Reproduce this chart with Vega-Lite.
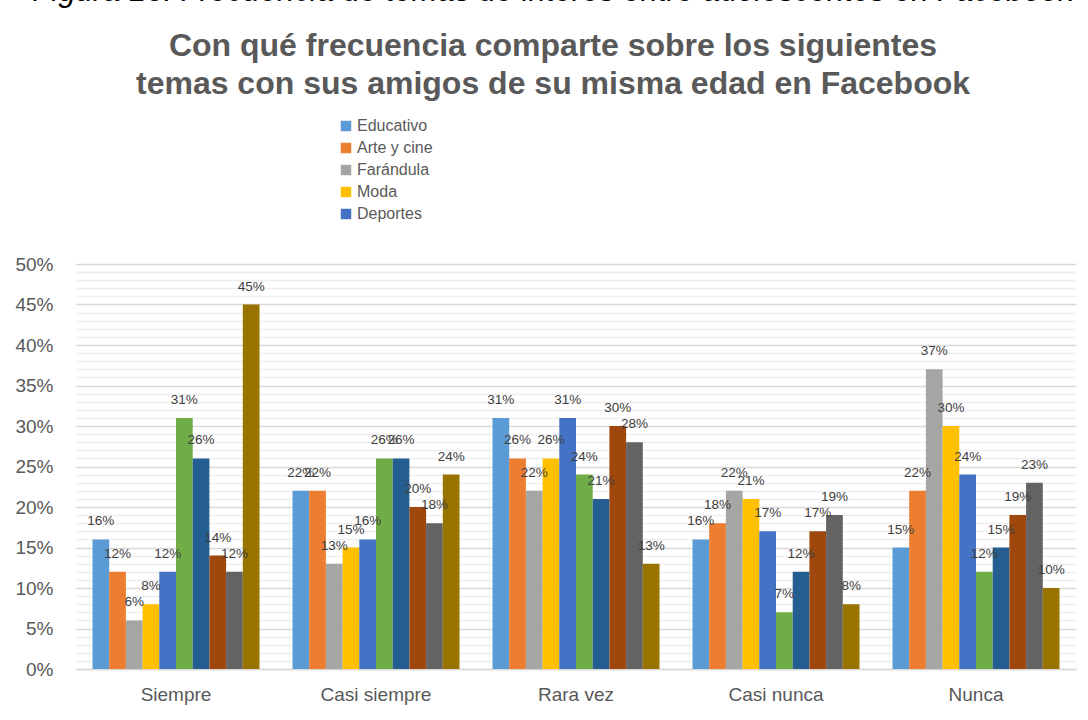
{
  "$schema": "https://vega.github.io/schema/vega-lite/v6.json",
  "width": 1000,
  "height": 405,
  "autosize": {"type": "none"},
  "padding": {"left": 76, "top": 264, "right": 12, "bottom": 51},
  "background": "white",
  "config": {"view": {"stroke": null}, "font": "Liberation Sans"},
  "title": {
    "text": "Figura 13: Frecuencia de temas de interés entre adolescentes en Facebook",
    "subtitle": ["Con qué frecuencia comparte sobre los siguientes", "temas con sus amigos de su misma edad en Facebook"],
    "anchor": "middle",
    "frame": "group",
    "dx": -23,
    "offset": 17,
    "font": "Liberation Sans",
    "fontSize": 31,
    "fontStyle": "italic",
    "fontWeight": "normal",
    "color": "#000000",
    "subtitleFont": "Liberation Sans",
    "subtitleFontSize": 32,
    "subtitleFontWeight": "bold",
    "subtitleColor": "#595959",
    "subtitleLineHeight": 38,
    "subtitlePadding": 23
  },
  "data": {
    "values": [
      {"cat": "Siempre", "serie": "Educativo", "v": 0.16},
      {"cat": "Siempre", "serie": "Arte y cine", "v": 0.12},
      {"cat": "Siempre", "serie": "Farándula", "v": 0.06},
      {"cat": "Siempre", "serie": "Moda", "v": 0.08},
      {"cat": "Siempre", "serie": "Deportes", "v": 0.12},
      {"cat": "Siempre", "serie": "Serie 6", "v": 0.31},
      {"cat": "Siempre", "serie": "Serie 7", "v": 0.26},
      {"cat": "Siempre", "serie": "Serie 8", "v": 0.14},
      {"cat": "Siempre", "serie": "Serie 9", "v": 0.12},
      {"cat": "Siempre", "serie": "Serie 10", "v": 0.45},
      {"cat": "Casi siempre", "serie": "Educativo", "v": 0.22},
      {"cat": "Casi siempre", "serie": "Arte y cine", "v": 0.22},
      {"cat": "Casi siempre", "serie": "Farándula", "v": 0.13},
      {"cat": "Casi siempre", "serie": "Moda", "v": 0.15},
      {"cat": "Casi siempre", "serie": "Deportes", "v": 0.16},
      {"cat": "Casi siempre", "serie": "Serie 6", "v": 0.26},
      {"cat": "Casi siempre", "serie": "Serie 7", "v": 0.26},
      {"cat": "Casi siempre", "serie": "Serie 8", "v": 0.20},
      {"cat": "Casi siempre", "serie": "Serie 9", "v": 0.18},
      {"cat": "Casi siempre", "serie": "Serie 10", "v": 0.24},
      {"cat": "Rara vez", "serie": "Educativo", "v": 0.31},
      {"cat": "Rara vez", "serie": "Arte y cine", "v": 0.26},
      {"cat": "Rara vez", "serie": "Farándula", "v": 0.22},
      {"cat": "Rara vez", "serie": "Moda", "v": 0.26},
      {"cat": "Rara vez", "serie": "Deportes", "v": 0.31},
      {"cat": "Rara vez", "serie": "Serie 6", "v": 0.24},
      {"cat": "Rara vez", "serie": "Serie 7", "v": 0.21},
      {"cat": "Rara vez", "serie": "Serie 8", "v": 0.30},
      {"cat": "Rara vez", "serie": "Serie 9", "v": 0.28},
      {"cat": "Rara vez", "serie": "Serie 10", "v": 0.13},
      {"cat": "Casi nunca", "serie": "Educativo", "v": 0.16},
      {"cat": "Casi nunca", "serie": "Arte y cine", "v": 0.18},
      {"cat": "Casi nunca", "serie": "Farándula", "v": 0.22},
      {"cat": "Casi nunca", "serie": "Moda", "v": 0.21},
      {"cat": "Casi nunca", "serie": "Deportes", "v": 0.17},
      {"cat": "Casi nunca", "serie": "Serie 6", "v": 0.07},
      {"cat": "Casi nunca", "serie": "Serie 7", "v": 0.12},
      {"cat": "Casi nunca", "serie": "Serie 8", "v": 0.17},
      {"cat": "Casi nunca", "serie": "Serie 9", "v": 0.19},
      {"cat": "Casi nunca", "serie": "Serie 10", "v": 0.08},
      {"cat": "Nunca", "serie": "Educativo", "v": 0.15},
      {"cat": "Nunca", "serie": "Arte y cine", "v": 0.22},
      {"cat": "Nunca", "serie": "Farándula", "v": 0.37},
      {"cat": "Nunca", "serie": "Moda", "v": 0.30},
      {"cat": "Nunca", "serie": "Deportes", "v": 0.24},
      {"cat": "Nunca", "serie": "Serie 6", "v": 0.12},
      {"cat": "Nunca", "serie": "Serie 7", "v": 0.15},
      {"cat": "Nunca", "serie": "Serie 8", "v": 0.19},
      {"cat": "Nunca", "serie": "Serie 9", "v": 0.23},
      {"cat": "Nunca", "serie": "Serie 10", "v": 0.10}
    ]
  },
  "encoding": {
    "x": {
      "field": "cat",
      "type": "nominal",
      "sort": ["Siempre", "Casi siempre", "Rara vez", "Casi nunca", "Nunca"],
      "scale": {"paddingInner": 0.165, "paddingOuter": 0.0825},
      "axis": {
        "title": null,
        "labelAngle": 0,
        "labelFontSize": 19,
        "labelColor": "#595959",
        "labelPadding": 16,
        "ticks": false,
        "domainColor": "#d9d9d9",
        "domainWidth": 1.5
      }
    },
    "xOffset": {
      "field": "serie",
      "type": "nominal",
      "sort": ["Educativo", "Arte y cine", "Farándula", "Moda", "Deportes", "Serie 6", "Serie 7", "Serie 8", "Serie 9", "Serie 10"],
      "scale": {"paddingInner": 0, "paddingOuter": 0}
    },
    "y": {
      "field": "v",
      "type": "quantitative",
      "scale": {"domain": [0, 0.5], "nice": false}
    }
  },
  "layer": [
    {
      "mark": {"type": "bar"},
      "encoding": {
        "y": {
          "field": "v",
          "type": "quantitative",
          "axis": {
            "orient": "left",
            "title": null,
            "labels": false,
            "ticks": false,
            "domain": false,
            "grid": true,
            "gridColor": "#eeeeee",
            "gridWidth": 1.5,
            "values": [0.01,0.02,0.03,0.04,0.06,0.07,0.08,0.09,0.11,0.12,0.13,0.14,0.16,0.17,0.18,0.19,0.21,0.22,0.23,0.24,0.26,0.27,0.28,0.29,0.31,0.32,0.33,0.34,0.36,0.37,0.38,0.39,0.41,0.42,0.43,0.44,0.46,0.47,0.48,0.49]
          }
        },
        "color": {
          "field": "serie",
          "type": "nominal",
          "scale": {
            "domain": ["Educativo", "Arte y cine", "Farándula", "Moda", "Deportes", "Serie 6", "Serie 7", "Serie 8", "Serie 9", "Serie 10"],
            "range": ["#5B9BD5", "#ED7D31", "#A5A5A5", "#FFC000", "#4472C4", "#70AD47", "#255E91", "#9E480E", "#636363", "#997300"]
          },
          "legend": {
            "values": ["Educativo", "Arte y cine", "Farándula", "Moda", "Deportes"],
            "title": null,
            "orient": "none",
            "legendX": 262,
            "legendY": -146,
            "padding": 0,
            "symbolType": "square",
            "symbolSize": 110,
            "symbolStrokeWidth": 0,
            "labelFontSize": 16,
            "labelColor": "#595959",
            "labelOffset": 3,
            "rowPadding": 6
          }
        }
      }
    },
    {
      "mark": {"type": "text", "baseline": "alphabetic", "dy": -14, "fontSize": 13.5, "color": "#404040"},
      "encoding": {
        "y": {
          "field": "v",
          "type": "quantitative",
          "axis": {
            "orient": "left",
            "title": null,
            "values": [0, 0.05, 0.1, 0.15, 0.2, 0.25, 0.3, 0.35, 0.4, 0.45, 0.5],
            "format": ".0%",
            "labelFontSize": 19,
            "labelColor": "#595959",
            "labelPadding": 23,
            "ticks": false,
            "tickSize": 0,
            "domain": false,
            "grid": true,
            "gridColor": "#d9d9d9",
            "gridWidth": 1.5
          }
        },
        "text": {"field": "v", "type": "quantitative", "format": ".0%"}
      }
    }
  ],
  "resolve": {"axis": {"y": "independent"}}
}
